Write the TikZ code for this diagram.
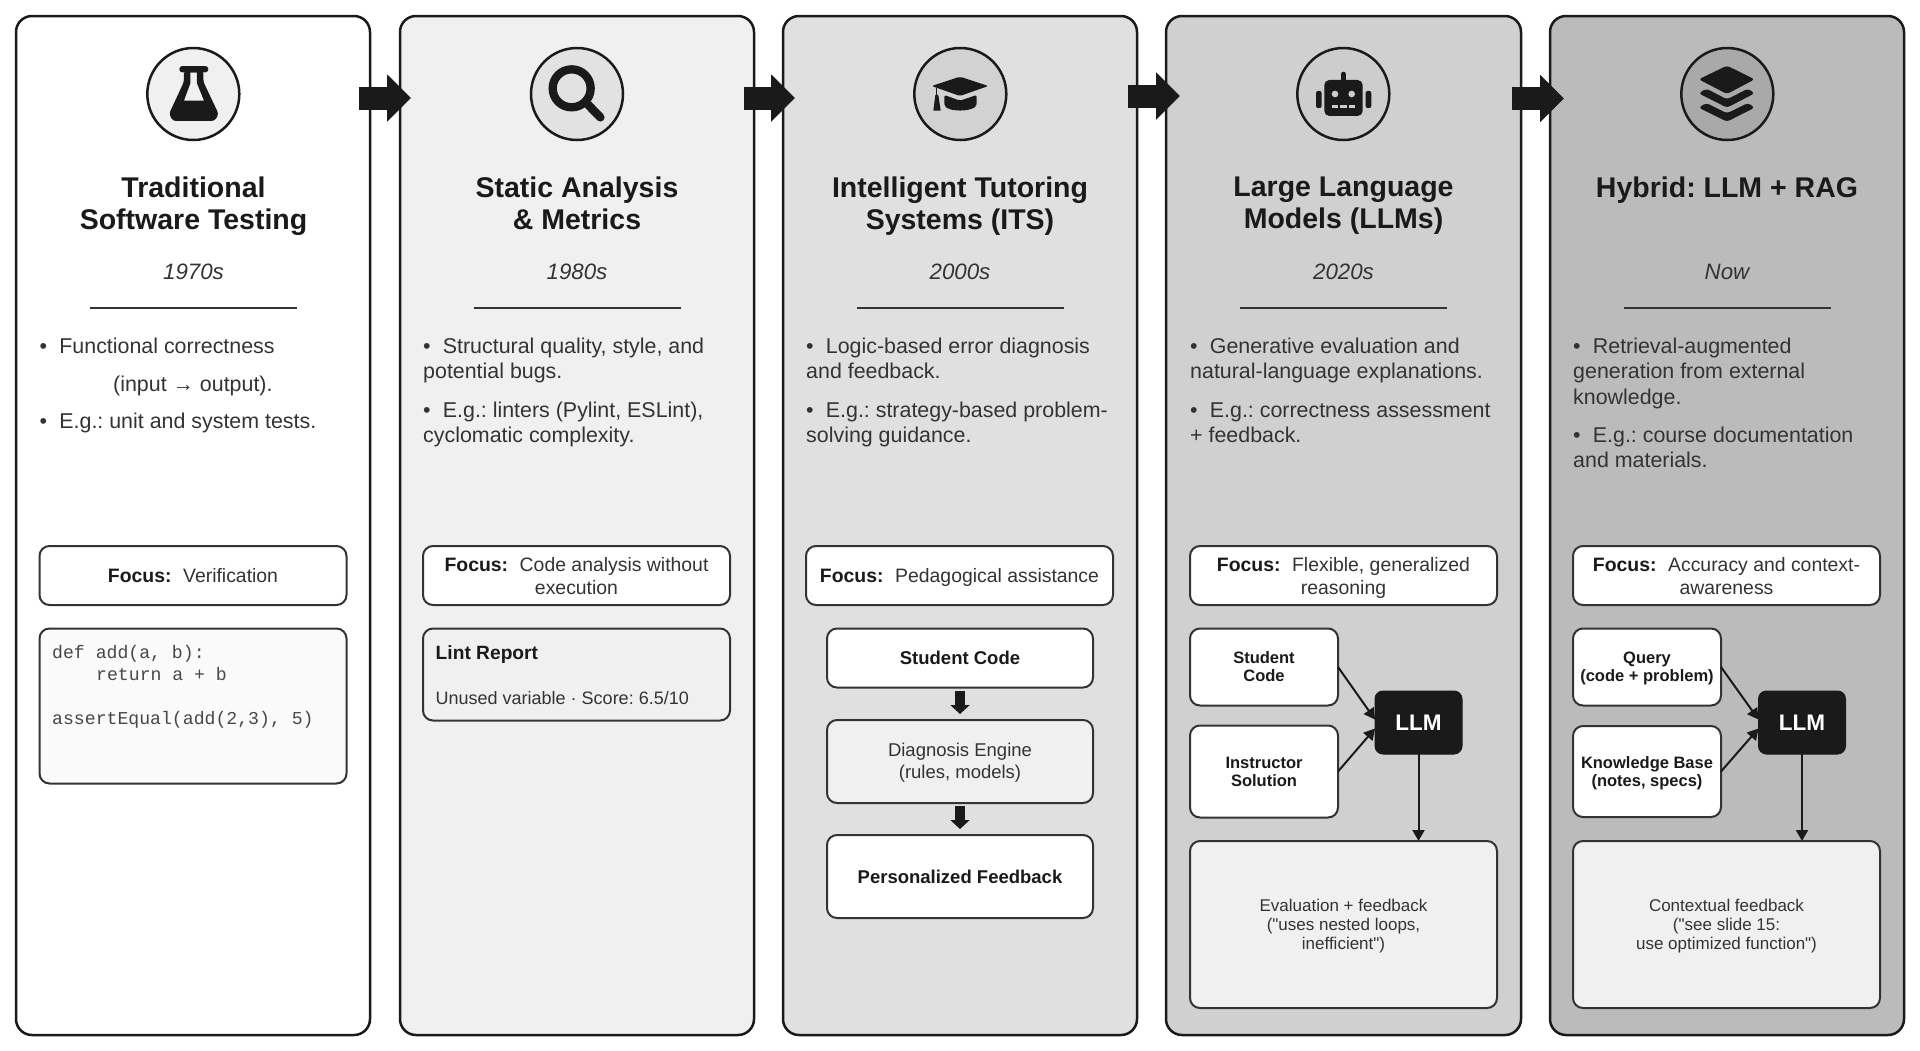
\documentclass[tikz,border=0pt]{standalone}
\usepackage{fontspec}
\setmainfont{Liberation Sans}
\setmonofont{Liberation Mono}
\newfontfamily\quotefont{Liberation Sans}
\usetikzlibrary{arrows.meta,calc}
\AtBeginDocument{\frenchspacing}
\definecolor{ink}{HTML}{1A1A1A}
\definecolor{txt}{HTML}{333333}
\definecolor{edge}{HTML}{333333}
\definecolor{pa}{HTML}{FFFFFF}
\definecolor{pb}{HTML}{F0F0F0}
\definecolor{pc}{HTML}{E0E0E0}
\definecolor{pd}{HTML}{D0D0D0}
\definecolor{pe}{HTML}{BBBBBB}
\tikzset{
  panelbox/.style={draw=ink,line width=2.5pt,rounded corners=16pt,anchor=north west,inner sep=0pt,outer sep=0pt},
  iconring/.style={circle,draw=ink,line width=2.5pt,minimum size=92pt,inner sep=0pt,outer sep=0pt},
  titletext/.style={anchor=north,inner sep=0pt,align=center,text=ink,font=\fontsize{28.5}{32}\selectfont\bfseries},
  yeartext/.style={anchor=base,inner sep=0pt,text=txt,font=\fontsize{22.3}{26}\selectfont\itshape},
  bodytext/.style={anchor=base west,inner sep=0pt,text=txt,font=\fontsize{21.4}{25}\selectfont},
  rulerline/.style={draw=txt,line width=1.5pt},
  roundbox/.style={draw=edge,line width=2pt,rounded corners=10pt,anchor=north west,inner sep=0pt,outer sep=0pt,align=center},
  focusbox/.style={roundbox,fill=white,text=txt,font=\fontsize{19.4}{23}\selectfont},
  flowbold/.style={roundbox,fill=white,text=ink,font=\fontsize{18.5}{22}\selectfont\bfseries},
  flowplain/.style={roundbox,fill=pb,text=txt,font=\fontsize{18.5}{22}\selectfont},
  inbox/.style={roundbox,fill=white,text=ink,font=\fontsize{16.5}{18}\selectfont\bfseries},
  outbox/.style={roundbox,fill=pb,text=txt,font=\quotefont\fontsize{17}{19}\selectfont},
  llmbox/.style={draw=ink,fill=ink,line width=1pt,rounded corners=8pt,anchor=north west,inner sep=0pt,outer sep=0pt,align=center,text=white,font=\fontsize{22.5}{26}\selectfont\bfseries},
  codetext/.style={anchor=base west,inner sep=0pt,text=txt!90!white,font=\fontsize{18.15}{22}\selectfont\ttfamily},
  bigarrow/.style={draw=ink,line width=23pt,-{Triangle[length=24pt,width=46pt,color=ink]}},
  smallarrow/.style={draw=ink,line width=10pt,-{Triangle[length=9pt,width=19pt,color=ink]},shorten <=3pt,shorten >=6pt},
  thinarrow/.style={draw=ink,line width=2pt,-{Triangle[length=11pt,width=12pt,color=ink]}}
}
\newcommand{\panelrule}[2]{\coordinate (#1a) at (#2-103.5,308); \coordinate (#1b) at (#2+103.5,308); \draw[rulerline] (#1a) -- (#1b);}
\newcommand{\ST}{\rule[-4.5pt]{0pt}{1pt}}
\newcommand{\FOC}{\rule[-4.5pt]{0pt}{23.5pt}{\color{ink}\bfseries Focus:}\hspace{11.6pt}}
\newcommand{\UP}[1]{\rule{0pt}{#1pt}}
\begin{document}
\begin{tikzpicture}[x=1pt,y=-1pt]
\useasboundingbox (0,0) rectangle (1920,1050);
% panels
\node[panelbox,fill=pa,minimum width=354pt,minimum height=1019pt] (p1) at (16,16) {};
\node[panelbox,fill=pb,minimum width=354pt,minimum height=1019pt] (p2) at (400,16) {};
\node[panelbox,fill=pc,minimum width=354pt,minimum height=1019pt] (p3) at (783,16) {};
\node[panelbox,fill=pd,minimum width=355pt,minimum height=1019pt] (p4) at (1166,16) {};
\node[panelbox,fill=pe,minimum width=354pt,minimum height=1019pt] (p5) at (1550,16) {};
% arrows between panels
\coordinate (a1s) at (359,98);  \coordinate (a1e) at (411,98);
\coordinate (a2s) at (744,98);  \coordinate (a2e) at (795,98);
\coordinate (a3s) at (1128,96); \coordinate (a3e) at (1180,96);
\coordinate (a4s) at (1512,98.5); \coordinate (a4e) at (1564,98.5);
\draw[bigarrow] (a1s) -- (a1e);
\draw[bigarrow] (a2s) -- (a2e);
\draw[bigarrow] (a3s) -- (a3e);
\draw[bigarrow] (a4s) -- (a4e);
% icon rings
\node[iconring,fill=pb] (i1) at (193.3,94) {};
\node[iconring,fill=pc!85!pb] (i2) at (577,94) {};
\node[iconring,fill=pd!85!pc] (i3) at (960.3,94) {};
\node[iconring,fill=pd!85!pe] (i4) at (1343.3,94) {};
\node[iconring,fill=pe!70!gray] (i5) at (1727.3,94) {};
% flask
\begin{scope}[shift={(140,40)},scale=0.3333]
\fill[ink,rounded corners=3pt] (118,78) rectangle (205,97);
\fill[ink,even odd rule] [rounded corners=3pt] (132,92) -- (190,92) -- (190,125) -- (236,222) -- (224,243) -- (99,243) -- (87,222) -- (132,125) -- cycle
  [sharp corners] (151,97) -- (171,97) -- (171,130) -- (192,182) -- (132,182) -- (151,130) -- cycle;
\end{scope}
% magnifier
\begin{scope}[shift={(525,40)},scale=0.3333]
\draw[ink,line width=8.3pt] (140,145) circle (57);
\draw[ink,line width=8.5pt,line cap=round] (190,195) -- (226,232);
\end{scope}
% cap
\begin{scope}[shift={(905,40)},scale=0.3333]
\fill[ink,rounded corners=2pt] (165,110) -- (250,138) -- (165,168) -- (80,138) -- cycle;
\fill[ink,rounded corners=2pt] (118,165) -- (165,182) -- (215,165) -- (215,198) .. controls (190,215) and (140,215) .. (118,198) -- cycle;
\draw[ink,line width=1.2pt] (95,145) -- (95,180);
\fill[ink] (91,165) -- (100,165) -- (107,212) -- (85,212) -- cycle;
\end{scope}
% robot
\begin{scope}[shift={(1290,40)},scale=0.3333]
\draw[ink,line width=4.6pt,line cap=round] (160,102) -- (160,125);
\fill[ink,rounded corners=5pt] (103,120) rectangle (218,228);
\fill[ink,rounded corners=2pt] (78,153) rectangle (95,204);
\fill[ink,rounded corners=2pt] (227,153) rectangle (244,204);
\fill[pd!85!pe] (135,162) circle (10);
\fill[pd!85!pe] (185,162) circle (10);
\fill[pd!85!pe] (125,195) rectangle (145,205);
\fill[pd!85!pe] (151,195) rectangle (171,205);
\fill[pd!85!pe] (176,195) rectangle (196,205);
\end{scope}
% layers
\begin{scope}[shift={(1672,40)},scale=0.3333]
\fill[ink,rounded corners=3pt] (165,77) -- (248,118) -- (165,162) -- (80,118) -- cycle;
\fill[ink,rounded corners=3pt] (80,160) -- (103,146) -- (165,178) -- (228,146) -- (248,160) -- (165,203) -- cycle;
\fill[ink,rounded corners=3pt] (80,203) -- (103,189) -- (165,220) -- (228,189) -- (248,203) -- (165,245) -- cycle;
\end{scope}
% titles, years, rules
\node[titletext] (t1) at (193.5,177) {Traditional\\Software Testing};
\node[titletext] (t2) at (577,177) {Static Analysis\\\& Metrics};
\node[titletext] (t3) at (960,177) {Intelligent Tutoring\\Systems (ITS)};
\node[titletext] (t4) at (1343.5,177) {Large Language\\Models (LLMs)};
\node[titletext] (t5) at (1727,177) {Hybrid: LLM + RAG};
\node[yeartext] (y1) at (193.5,279) {1970s};
\node[yeartext] (y2) at (577,279) {1980s};
\node[yeartext] (y3) at (960,279) {2000s};
\node[yeartext] (y4) at (1343.5,279) {2020s};
\node[yeartext] (y5) at (1727,279) {Now};
\panelrule{ra}{193.5}
\panelrule{rb}{577}
\panelrule{rc}{960}
\panelrule{rd}{1343.5}
\panelrule{re}{1727}
% body text
\node[bodytext] (b11) at (39.5,353) {•\hspace{12.2pt}Functional correctness};
\node[bodytext] (b12) at (113,391) {(input → output).};
\node[bodytext] (b13) at (39.5,428) {•\hspace{12.2pt}E.g.: unit and system tests.};
\node[bodytext] (b21) at (423,353) {•\hspace{12.2pt}Structural quality, style, and};
\node[bodytext] (b22) at (423,378) {potential bugs.};
\node[bodytext] (b23) at (423,417) {•\hspace{12.2pt}E.g.: linters (Pylint, ESLint),};
\node[bodytext] (b24) at (423,442) {cyclomatic complexity.};
\node[bodytext] (b31) at (806,353) {•\hspace{12.2pt}Logic-based error diagnosis};
\node[bodytext] (b32) at (806,378) {and feedback.};
\node[bodytext] (b33) at (806,417) {•\hspace{12.2pt}E.g.: strategy-based problem-};
\node[bodytext] (b34) at (806,442) {solving guidance.};
\node[bodytext] (b41) at (1190,353) {•\hspace{12.2pt}Generative evaluation and};
\node[bodytext] (b42) at (1190,378) {natural-language explanations.};
\node[bodytext] (b43) at (1190,417) {•\hspace{12.2pt}E.g.: correctness assessment};
\node[bodytext] (b44) at (1190,442) {+ feedback.};
\node[bodytext] (b51) at (1573,353) {•\hspace{12.2pt}Retrieval-augmented};
\node[bodytext] (b52) at (1573,378) {generation from external};
\node[bodytext] (b53) at (1573,404) {knowledge.};
\node[bodytext] (b54) at (1573,442) {•\hspace{12.2pt}E.g.: course documentation};
\node[bodytext] (b55) at (1573,467) {and materials.};
% focus boxes
\node[focusbox,minimum width=307pt,minimum height=59pt] (f1) at (39.5,546) {\FOC Verification};
\node[focusbox,minimum width=307pt,minimum height=59pt] (f2) at (423,546) {\FOC Code analysis without\\execution\ST};
\node[focusbox,minimum width=307pt,minimum height=59pt] (f3) at (806,546) {\FOC Pedagogical assistance};
\node[focusbox,minimum width=307pt,minimum height=59pt] (f4) at (1190,546) {\FOC Flexible, generalized\\reasoning\ST};
\node[focusbox,minimum width=307pt,minimum height=59pt] (f5) at (1573,546) {\FOC Accuracy and context-\\awareness\ST};
% panel 1 code
\node[roundbox,fill=white!98!black,minimum width=307pt,minimum height=155pt] (code) at (39.5,628.5) {};
\node[codetext] (c1) at (52,658) {def add(a, b):};
\node[codetext] (c2) at (96,680) {return a + b};
\node[codetext] (c3) at (52,724) {assertEqual(add(2,3), 5)};
% panel 2 lint
\node[roundbox,fill=pb,minimum width=307pt,minimum height=92pt] (lint) at (423,628.5) {};
\node[anchor=base west,inner sep=0pt,text=ink,font=\fontsize{19.2}{23}\selectfont\bfseries] (l1) at (435.5,659) {Lint Report};
\node[anchor=base west,inner sep=0pt,text=txt,font=\fontsize{18}{22}\selectfont] (l2) at (435.5,704) {Unused variable · Score: 6.5/10};
% panel 3 flow
\node[flowbold,minimum width=266pt,minimum height=59pt] (s3) at (827,628.5) {Student Code};
\node[flowplain,minimum width=266pt,minimum height=83pt] (d3) at (827,720) {\UP{16}Diagnosis Engine\\(rules, models)};
\node[flowbold,minimum width=266pt,minimum height=83pt] (r3) at (827,835) {Personalized Feedback};
\draw[smallarrow] (s3.south) -- (d3.north);
\draw[smallarrow] (d3.south) -- (r3.north);
% panel 4 flow
\node[inbox,minimum width=148pt,minimum height=77pt] (s4) at (1190,628.5) {Student\\Code};
\node[inbox,minimum width=148pt,minimum height=92pt] (k4) at (1190,725.5) {Instructor\\Solution};
\node[llmbox,minimum width=87pt,minimum height=63pt] (m4) at (1375,691) {LLM};
\node[outbox,minimum width=307pt,minimum height=167pt] (o4) at (1190,841) {\UP{15}Evaluation + feedback\\("uses nested loops,\\inefficient")};
\coordinate (m4a) at ($(m4.west)+(0,-3)$);
\coordinate (m4b) at ($(m4.west)+(0,6)$);
\draw[thinarrow] (s4.east) -- (m4a);
\draw[thinarrow] (k4.east) -- (m4b);
\coordinate (o4n) at (m4.south |- o4.north);
\draw[thinarrow] (m4.south) -- (o4n);
% panel 5 flow
\node[inbox,minimum width=148pt,minimum height=77pt] (s5) at (1573,628.5) {\UP{13.5}Query\\(code + problem)};
\node[inbox,minimum width=148pt,minimum height=91pt] (k5) at (1573,726) {\UP{14.5}Knowledge Base\\(notes, specs)};
\node[llmbox,minimum width=87pt,minimum height=63pt] (m5) at (1758.5,691) {LLM};
\node[outbox,minimum width=307pt,minimum height=167pt] (o5) at (1573,841) {\UP{15}Contextual feedback\\("see slide 15:\\use optimized function")};
\coordinate (m5a) at ($(m5.west)+(0,-3)$);
\coordinate (m5b) at ($(m5.west)+(0,6)$);
\draw[thinarrow] (s5.east) -- (m5a);
\draw[thinarrow] (k5.east) -- (m5b);
\coordinate (o5n) at (m5.south |- o5.north);
\draw[thinarrow] (m5.south) -- (o5n);
\end{tikzpicture}
\end{document}
